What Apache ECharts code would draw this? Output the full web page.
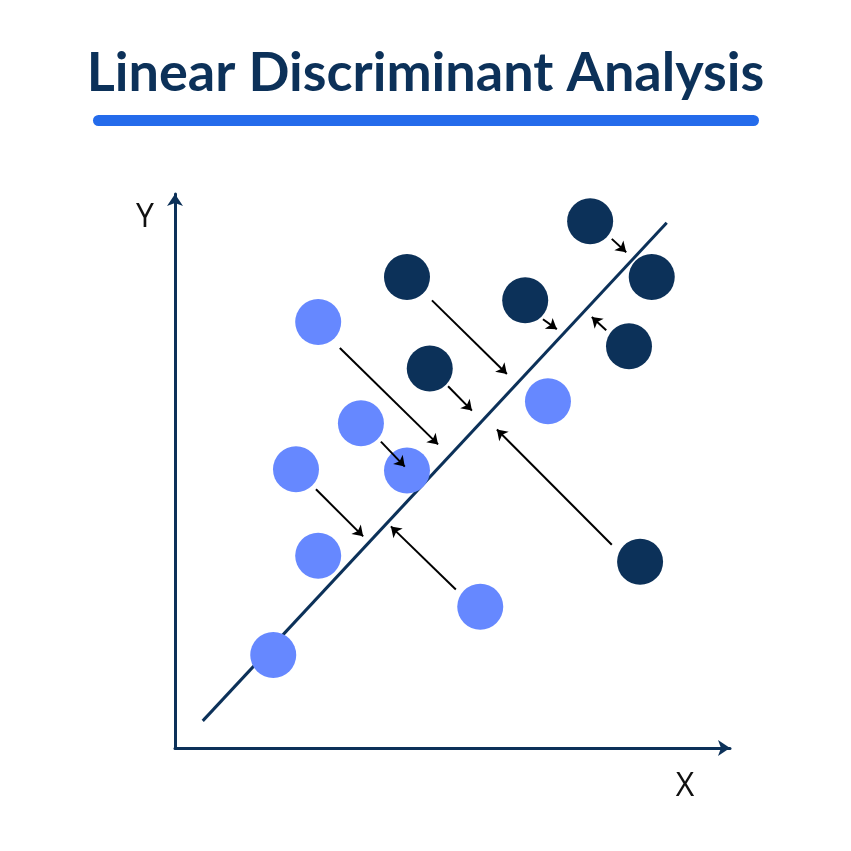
<!DOCTYPE html>
<html><head><meta charset="utf-8">
<script src="https://cdn.jsdelivr.net/npm/echarts@6/dist/echarts.min.js"></script>
<style>html,body{margin:0;padding:0;background:#fff}#c{width:851px;height:851px}</style>
</head><body><div id="c"></div>
<script>
var titleText = 'Linear Discriminant Analysis';
var lightPoints = [[2.58,7.69],[3.35,5.86],[2.18,5.03],[4.18,5.01],[2.58,3.47],[5.50,2.55],[1.77,1.68],[6.72,6.26]];
var darkPoints = [[7.48,9.51],[4.18,8.50],[8.59,8.50],[6.31,8.08],[8.18,7.25],[4.59,6.85],[8.38,3.36]];
var discriminantLine = [[0.50,0.49],[8.86,9.48]];
var projectionArrows = [
  [[2.97,7.22],[4.74,5.48]],
  [[4.63,8.08],[5.98,6.75]],
  [[3.71,5.53],[4.14,5.08]],
  [[4.92,6.53],[5.35,6.09]],
  [[2.54,4.67],[3.39,3.82]],
  [[5.06,2.86],[3.89,4.00]],
  [[7.87,3.67],[5.80,5.75]],
  [[6.63,7.74],[6.88,7.56]],
  [[7.87,9.19],[8.13,8.95]],
  [[7.77,7.54],[7.51,7.78]]
];
var axisNames = ['X','Y'];

var navy = '#0C3159', light = '#6688FF';
var chart = echarts.init(document.getElementById('c'));
chart.setOption({
  animation:false,
  backgroundColor:'#fff',
  grid:{left:175, top:194, width:555, height:554},
  xAxis:{type:'value', min:0, max:10, splitLine:{show:false}, axisTick:{show:false}, axisLabel:{show:false},
    axisLine:{lineStyle:{color:navy,width:3}, symbol:['none','arrow'], symbolSize:[12,12], symbolOffset:[0,0]}},
  yAxis:{type:'value', min:0, max:10, splitLine:{show:false}, axisTick:{show:false}, axisLabel:{show:false},
    axisLine:{lineStyle:{color:navy,width:3}, symbol:['none','arrow'], symbolSize:[12,12], symbolOffset:[0,0]}},
  graphic:[
    {type:'text', left:'center', top:47, style:{text:titleText, fill:navy, font:'bold 54px Lato, "Open Sans", sans-serif'}},
    {type:'rect', shape:{x:93,y:115,width:666,height:11,r:5.5}, style:{fill:'#246BEB'}},
    {type:'text', x:145, y:218, style:{text:axisNames[1], fill:'#111', font:'32px "Open Sans", sans-serif', align:'center', verticalAlign:'middle'}},
    {type:'text', x:685, y:787, style:{text:axisNames[0], fill:'#111', font:'32px "Open Sans", sans-serif', align:'center', verticalAlign:'middle'}}
  ],
  series:[
    {type:'line', data:discriminantLine, symbol:'none', lineStyle:{color:navy,width:3}, z:2},
    {type:'scatter', data:lightPoints, symbolSize:46, itemStyle:{color:light, opacity:1}, z:4},
    {type:'scatter', data:darkPoints, symbolSize:46, itemStyle:{color:navy, opacity:1}, z:4},
    {type:'lines', coordinateSystem:'cartesian2d', z:5,
      data:projectionArrows.map(function(a){return {coords:a};}),
      symbol:['none','arrow'], symbolSize:10,
      lineStyle:{color:'#000', width:2, opacity:1}}
  ]
});
</script></body></html>
